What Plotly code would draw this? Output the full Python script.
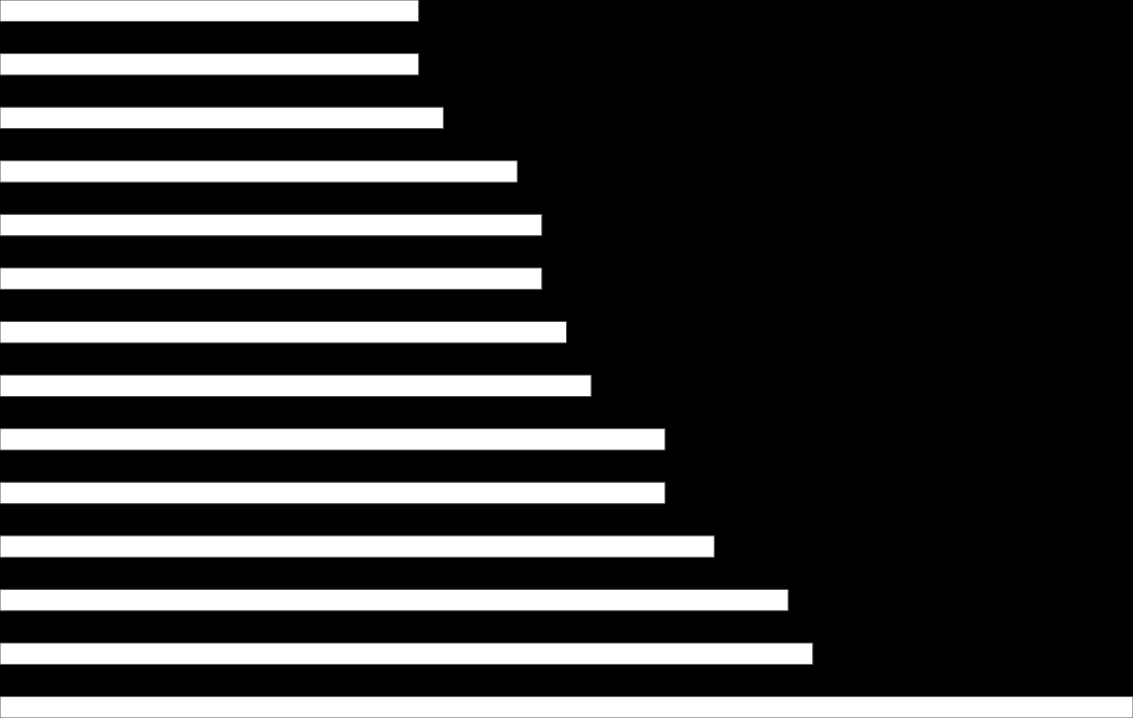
import plotly.graph_objects as go

positions = list(range(14))
values = [17, 17, 18, 21, 22, 22, 23, 24, 27, 27, 29, 32, 33, 46]

fig = go.Figure(go.Bar(
    x=values,
    y=positions,
    orientation="h",
    marker=dict(color="white", line=dict(color="#555555", width=1)),
))
fig.update_layout(
    width=1133, height=718,
    margin=dict(l=0, r=0, t=0, b=0),
    paper_bgcolor="black", plot_bgcolor="black",
    bargap=0.6, showlegend=False,
    xaxis=dict(visible=False, range=[0, 46], showgrid=False, zeroline=False),
    yaxis=dict(visible=False, range=[13.2, -0.2], showgrid=False, zeroline=False),
)
fig.write_html(
    "out.html",
    config={"displayModeBar": False},
    post_script="document.body.style.margin='0';document.body.style.background='black';document.body.style.overflow='hidden';",
)
